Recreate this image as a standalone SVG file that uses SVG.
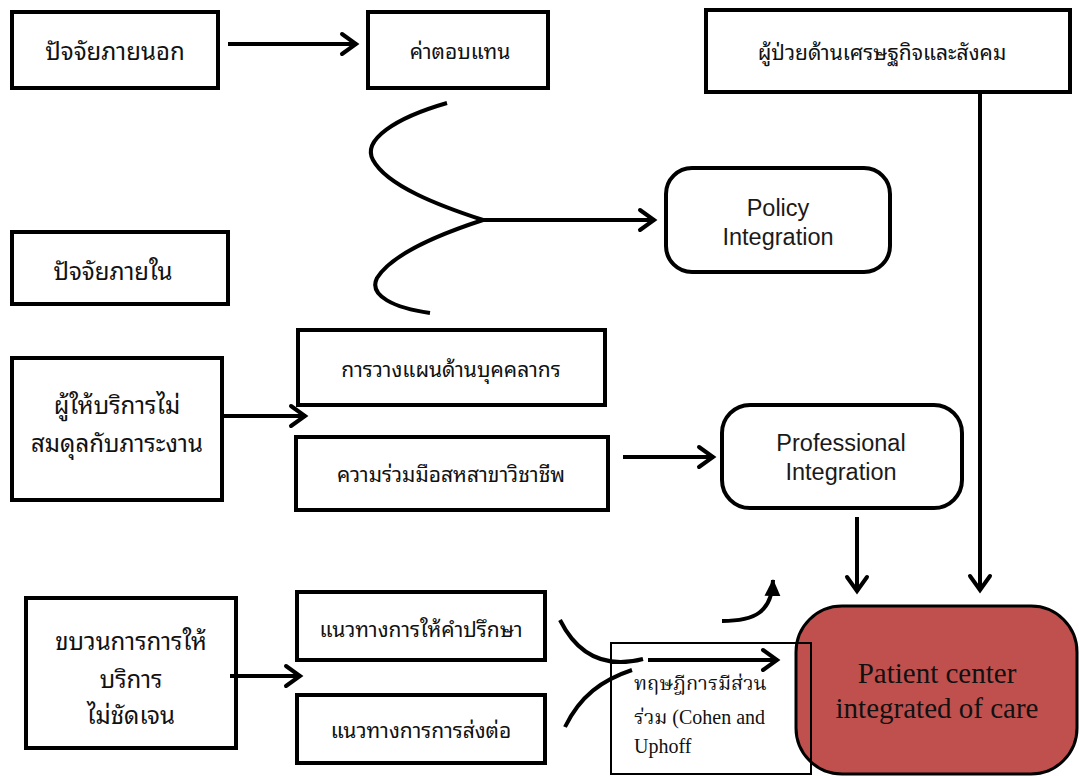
<svg xmlns="http://www.w3.org/2000/svg" width="1079" height="776" viewBox="0 0 1079 776">
  <style>
    .box { fill: #ffffff; stroke: #000000; stroke-width: 4; }
    .rbox { fill: #ffffff; stroke: #000000; stroke-width: 4; }
    .th { font-family: "Noto Sans Thai Looped", "Loma", "Garuda", "Tahoma", "Noto Sans Thai", "DejaVu Sans", sans-serif; fill: #111111; text-anchor: middle; dominant-baseline: central; }
    .big { font-size: 24px; }
    .sm { font-size: 21px; }
    .en { font-family: "Liberation Sans", Arial, sans-serif; font-size: 23.5px; fill: #1a1a1a; text-anchor: middle; }
    .serif { font-family: "Liberation Serif", "Noto Serif Thai", "Times New Roman", serif; fill: #111111; }
    .link { fill: none; stroke: #000000; stroke-width: 4; }
  </style>
  <defs>
    <marker id="chev" markerUnits="userSpaceOnUse" viewBox="0 0 22 26" refX="19" refY="13" markerWidth="22" markerHeight="26" orient="auto">
      <path d="M4,3 L18,13 L4,23" fill="none" stroke="#000000" stroke-width="4" stroke-linecap="round" stroke-linejoin="miter"/>
    </marker>
    <marker id="tri" markerUnits="userSpaceOnUse" viewBox="0 0 18 18" refX="16" refY="9" markerWidth="18" markerHeight="18" orient="auto">
      <path d="M0,1 L17,9 L0,17 Z" fill="#000000"/>
    </marker>
  </defs>

  <rect width="1079" height="776" fill="#ffffff"/>

  <!-- outcome node sits under the theory box outline -->
  <g id="patient-center">
    <rect x="796" y="606" width="281" height="168" rx="46" ry="46" fill="#C0504D" stroke="#000000" stroke-width="3"/>
    <text class="serif" x="937" y="683" font-size="29" text-anchor="middle">Patient center</text>
    <text class="serif" x="937" y="718" font-size="29" text-anchor="middle">integrated of care</text>
  </g>

  <g id="external-factors">
    <rect class="box" x="12" y="12" width="206" height="76"/>
    <text class="th big" x="115" y="49">ปัจจัยภายนอก</text>
  </g>

  <g id="compensation">
    <rect class="box" x="368" y="12" width="180" height="76"/>
    <text class="th sm" x="460" y="49">ค่าตอบแทน</text>
  </g>

  <g id="socioeconomic">
    <rect class="box" x="706" y="10" width="364" height="82"/>
    <text class="th sm" x="882" y="50">ผู้ป่วยด้านเศรษฐกิจและสังคม</text>
  </g>

  <g id="policy-integration">
    <rect class="rbox" x="666" y="168" width="224" height="104" rx="26" ry="26"/>
    <text class="en" x="778" y="216">Policy</text>
    <text class="en" x="778" y="245">Integration</text>
  </g>

  <g id="internal-factors">
    <rect class="box" x="12" y="232" width="216" height="72"/>
    <text class="th big" x="113" y="269">ปัจจัยภายใน</text>
  </g>

  <g id="staff-imbalance">
    <rect class="box" x="12" y="358" width="210" height="142"/>
    <text class="th big" x="117" y="403">ผู้ให้บริการไม่</text>
    <text class="th big" x="117" y="441">สมดุลกับภาระงาน</text>
  </g>

  <g id="staff-planning">
    <rect class="box" x="298" y="330" width="307" height="75"/>
    <text class="th sm" x="451" y="367">การวางแผนด้านบุคคลากร</text>
  </g>

  <g id="interprofessional">
    <rect class="box" x="296" y="437" width="312" height="73"/>
    <text class="th sm" x="451" y="472">ความร่วมมือสหสาขาวิชาชีพ</text>
  </g>

  <g id="professional-integration">
    <rect class="rbox" x="722" y="405" width="240" height="103" rx="28" ry="28"/>
    <text class="en" x="841" y="451">Professional</text>
    <text class="en" x="841" y="480">Integration</text>
  </g>

  <g id="unclear-process">
    <rect class="box" x="26" y="598" width="210" height="150"/>
    <text class="th big" x="131" y="639">ขบวนการการให้</text>
    <text class="th big" x="131" y="677">บริการ</text>
    <text class="th big" x="131" y="713">ไม่ชัดเจน</text>
  </g>

  <g id="counselling">
    <rect class="box" x="297" y="592" width="248" height="68"/>
    <text class="th sm" x="421" y="627">แนวทางการให้คำปรึกษา</text>
  </g>

  <g id="referral">
    <rect class="box" x="297" y="695" width="248" height="68"/>
    <text class="th sm" x="421" y="728">แนวทางการการส่งต่อ</text>
  </g>

  <g id="participation-theory">
    <rect x="611" y="643" width="200" height="131" fill="none" stroke="#000000" stroke-width="2"/>
    <text class="serif" x="634" y="690" font-size="20">ทฤษฎีการมีส่วน</text>
    <text class="serif" x="634" y="724" font-size="20">ร่วม (Cohen and</text>
    <text class="serif" x="634" y="753" font-size="20">Uphoff</text>
  </g>

  <g id="connectors">
    <path class="link" d="M228,44 L357,44" marker-end="url(#chev)"/>
    <!-- brace gathering the upper factors -->
    <path class="link" d="M447,103 C395,118 362,140 373,160 C387,186 440,206 483,220"/>
    <path class="link" d="M483,220 C440,234 392,254 377,278 C368,296 395,308 430,313"/>
    <path class="link" d="M483,220 L655,220" marker-end="url(#chev)"/>
    <path class="link" d="M980,92 L980,591" marker-end="url(#chev)"/>
    <path class="link" d="M222,416 L306,416" marker-end="url(#chev)"/>
    <path class="link" d="M623,457 L714,457" marker-end="url(#chev)"/>
    <path class="link" d="M857,517 L857,592" marker-end="url(#chev)"/>
    <path class="link" d="M230,676 L301,676" marker-end="url(#chev)"/>
    <!-- converging curves from the two guideline boxes -->
    <path class="link" d="M560,620 C575,650 600,670 643,659"/>
    <path class="link" d="M565,727 C580,696 602,680 632,670"/>
    <path class="link" d="M648,660 L778,660" marker-end="url(#chev)"/>
    <path class="link" d="M722,621 C755,621 772,612 773,580" marker-end="url(#tri)"/>
  </g>
</svg>
